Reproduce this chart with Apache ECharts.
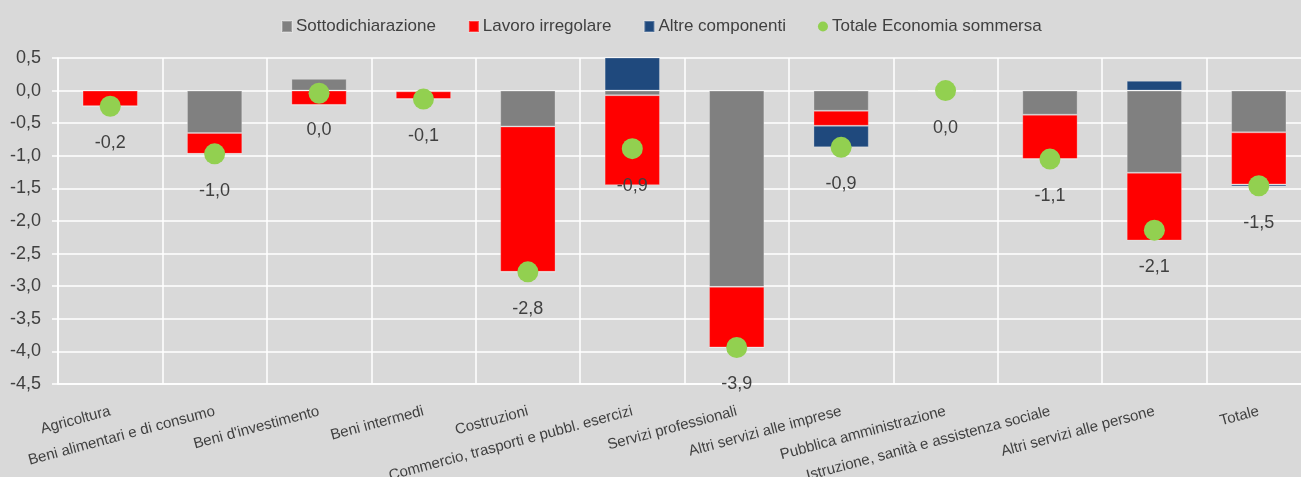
<!DOCTYPE html>
<html>
<head>
<meta charset="utf-8">
<script src="https://cdn.jsdelivr.net/npm/echarts@6/dist/echarts.min.js"></script>
<style>
html,body{margin:0;padding:0;background:#d9d9d9;}
#c{width:1301px;height:477px;}
</style>
</head>
<body>
<div id="c"></div>
<script>
const categories = [
  'Agricoltura',
  'Beni alimentari e di consumo',
  "Beni d'investimento",
  'Beni intermedi',
  'Costruzioni',
  'Commercio, trasporti e pubbl. esercizi',
  'Servizi professionali',
  'Altri servizi alle imprese',
  'Pubblica amministrazione',
  'Istruzione, sanità e assistenza sociale',
  'Altri servizi alle persone',
  'Totale'
];
const sottodichiarazione = [0.0, -0.65, 0.18, -0.01, -0.55, -0.07, -3.01, -0.31, 0.0, -0.37, -1.26, -0.64];
const lavoroIrregolare   = [-0.24, -0.32, -0.22, -0.12, -2.23, -1.38, -0.93, -0.23, 0.0, -0.68, -1.04, -0.80];
const altreComponenti    = [0.0, 0.0, 0.0, 0.0, 0.0, 0.56, 0.0, -0.33, 0.0, 0.0, 0.15, -0.03];
const totale             = [-0.24, -0.97, -0.04, -0.13, -2.78, -0.89, -3.94, -0.87, 0.0, -1.05, -2.14, -1.46];
const seriesNames = ['Sottodichiarazione', 'Lavoro irregolare', 'Altre componenti', 'Totale Economia sommersa'];

const FONT = '"Liberation Sans", Arial, sans-serif';
const TXT = '#404040';
const fmt = v => (Math.abs(v) < 0.05 ? '0.0' : v.toFixed(1)).replace('.', ',');

const chart = echarts.init(document.getElementById('c'), null, {renderer: 'canvas'});
const border = {borderColor: 'rgba(255,255,255,0.25)', borderWidth: 1};
const bar = (name, data, color) => ({
  type: 'bar', stack: 'tot', barWidth: '53%', name: name, data: data,
  itemStyle: Object.assign({color: color, opacity: 1}, border)
});
chart.setOption({
  backgroundColor: '#d9d9d9',
  animation: false,
  textStyle: {fontFamily: FONT, color: TXT},
  legend: {
    left: 276, top: 13, itemWidth: 10, itemHeight: 11, itemGap: 32,
    textStyle: {fontFamily: FONT, fontSize: 17, color: TXT, padding: [0, 0, 0, -1]},
    data: [
      {name: seriesNames[0], icon: 'rect'},
      {name: seriesNames[1], icon: 'rect'},
      {name: seriesNames[2], icon: 'rect'},
      {name: seriesNames[3], icon: 'circle'}
    ]
  },
  grid: {left: 58, top: 58, width: 1253, height: 326, containLabel: false, outerBoundsMode: 'none'},
  xAxis: {
    type: 'category', data: categories,
    axisLine: {show: true, onZero: false, lineStyle: {color: '#ffffff', width: 1.5}},
    axisTick: {show: false},
    splitLine: {show: true, interval: 0, lineStyle: {color: '#ffffff', width: 1.5}},
    axisLabel: {interval: 0, rotate: 15, margin: 27, fontSize: 15, color: TXT, fontFamily: FONT}
  },
  yAxis: {
    type: 'value', min: -4.5, max: 0.5, interval: 0.5,
    axisLine: {show: true, lineStyle: {color: '#ffffff', width: 1.5}},
    axisTick: {show: true, length: 6, lineStyle: {color: '#ffffff', width: 1.5}},
    splitLine: {show: true, lineStyle: {color: '#ffffff', width: 1.5}},
    axisLabel: {margin: 17, fontSize: 18, color: TXT, fontFamily: FONT, formatter: v => fmt(v)}
  },
  series: [
    bar(seriesNames[0], sottodichiarazione, '#808080'),
    bar(seriesNames[1], lavoroIrregolare, '#ff0000'),
    bar(seriesNames[2], altreComponenti, '#1f497d'),
    {
      name: seriesNames[3], type: 'scatter', data: totale, symbol: 'circle', symbolSize: 21, z: 5,
      itemStyle: {color: '#92d050', opacity: 1},
      label: {show: true, position: 'inside', offset: [0, 37], fontSize: 18, color: TXT, fontFamily: FONT,
        formatter: p => fmt(p.value)}
    }
  ]
});
</script>
</body>
</html>
